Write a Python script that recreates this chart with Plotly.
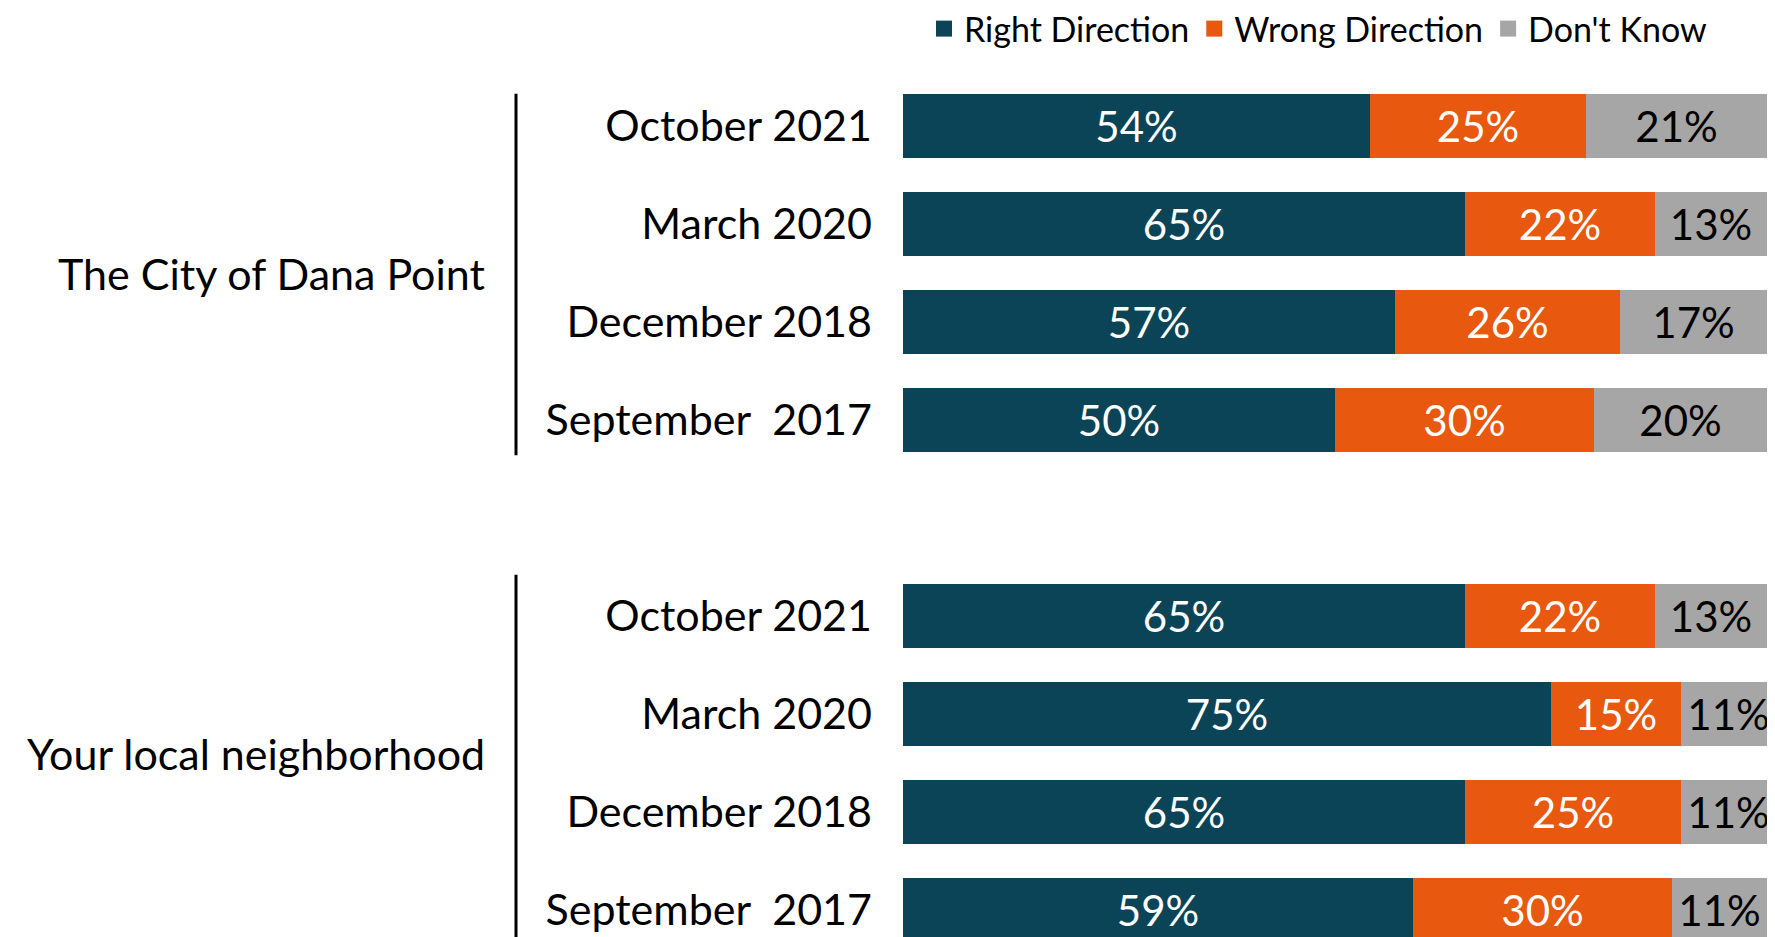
import plotly.graph_objects as go

# ---- data ----
periods = ["October 2021", "March 2020", "December 2018", "September\u00a0 2017"]
groups = ["The City of Dana Point", "Your local neighborhood"]
series = ["Right Direction", "Wrong Direction", "Don't Know"]

city_right = [54, 65, 57, 50]
city_wrong = [25, 22, 26, 30]
city_dk = [21, 13, 17, 20]

hood_right = [65, 75, 65, 59]
hood_wrong = [22, 15, 25, 30]
hood_dk = [13, 11, 11, 11]

colors = ["#0B4457", "#E8580E", "#A6A6A6"]
text_colors = ["white", "white", "black"]

# row positions: 4 rows, one empty slot, 4 rows
rows = [0, 1, 2, 3, 5, 6, 7, 8]
row_labels = periods + periods
values = [city_right + hood_right, city_wrong + hood_wrong, city_dk + hood_dk]

FONT = "Lato"

fig = go.Figure()
for name, vals, col, tcol in zip(series, values, colors, text_colors):
    fig.add_trace(go.Bar(
        name=name, x=vals, y=rows, orientation="h",
        marker=dict(color=col, line=dict(width=0)),
        width=0.66, showlegend=False,
        text=[f"{v}%" for v in vals], texttemplate="%{text}",
        textposition="inside", insidetextanchor="middle", textangle=0,
        insidetextfont=dict(color=tcol, size=42, family=FONT),
        constraintext="none",
        hoverinfo="skip",
    ))
# legend entries with larger square swatches (point placed outside the visible range)
for name, col in zip(series, colors):
    fig.add_trace(go.Scatter(
        name=name, x=[0], y=[-10], mode="markers",
        marker=dict(symbol="square", size=19, color=col),
        showlegend=True, hoverinfo="skip", cliponaxis=True,
    ))

W, H = 1775, 937
L, R, T, B = 903, 8, 70, 0
plot_w = W - L - R
row_px0, row_step = 126, 98
k_top = (T - row_px0) / row_step
k_bot = (H - B - row_px0) / row_step

def px_to_paper(px):
    return (px - L) / plot_w

fig.update_layout(
    width=W, height=H,
    barmode="stack",
    bargap=0,
    margin=dict(l=L, r=R, t=T, b=B),
    paper_bgcolor="white", plot_bgcolor="white",
    font=dict(family=FONT, color="black"),
    xaxis=dict(range=[0, 100], visible=False, fixedrange=True),
    yaxis=dict(range=[k_bot, k_top], tickvals=rows, ticktext=row_labels,
               showgrid=False, zeroline=False, showline=False, ticks="",
               tickfont=dict(size=43, family=FONT, color="black"),
               ticklabelstandoff=30, fixedrange=True),
    legend=dict(orientation="h", x=px_to_paper(924), xanchor="left",
                y=1, yanchor="top", yref="container",
                font=dict(size=34, family=FONT, color="black"),
                traceorder="normal", itemsizing="trace", itemwidth=30),
    showlegend=True,
)

# group labels
for g, ymid in zip(groups, [1.5, 6.4]):
    fig.add_annotation(text=g, xref="paper", yref="y", x=px_to_paper(487), y=ymid,
                       xanchor="right", yanchor="middle", showarrow=False,
                       font=dict(size=43, family=FONT, color="black"))

# group bracket lines
for y0, y1 in [(-0.33, 3.36), (4.58, 8.4)]:
    fig.add_shape(type="line", xref="paper", yref="y",
                  x0=px_to_paper(516), x1=px_to_paper(516), y0=y0, y1=y1,
                  line=dict(color="black", width=3))

fig.write_html("out.html", config={"displayModeBar": False},
               post_script="document.body.style.margin='0';document.body.style.overflow='hidden';")
